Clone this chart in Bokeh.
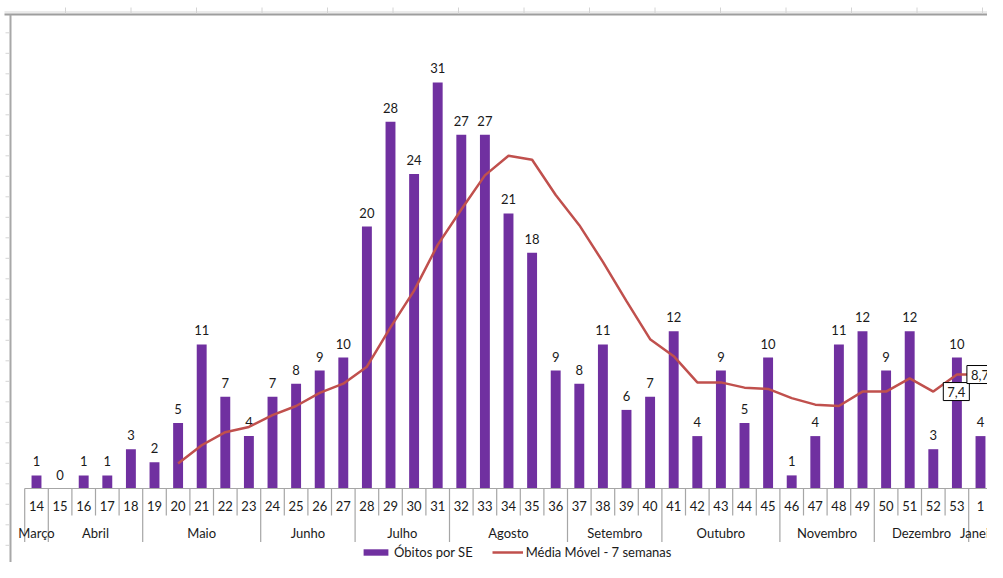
from bokeh.plotting import figure
from bokeh.models import Range1d, ColumnDataSource, Legend, LegendItem
from bokeh.core.properties import value
from bokeh.embed import file_html
from bokeh.resources import INLINE

# ---------------- data ----------------
weeks = ["14", "15", "16", "17", "18", "19", "20", "21", "22", "23", "24", "25",
         "26", "27", "28", "29", "30", "31", "32", "33", "34", "35", "36", "37",
         "38", "39", "40", "41", "42", "43", "44", "45", "46", "47", "48", "49",
         "50", "51", "52", "53", "1"]
obitos = [1, 0, 1, 1, 3, 2, 5, 11, 7, 4, 7, 8, 9, 10, 20, 28, 24, 31, 27, 27, 21,
          18, 9, 8, 11, 6, 7, 12, 4, 9, 5, 10, 1, 4, 11, 12, 9, 12, 3, 10, 4]
# 7-week moving average, from week 20 to week 1
media_movel = [1.9, 3.3, 4.3, 4.7, 5.6, 6.3, 7.3, 8.0, 9.3, 12.3, 15.1, 18.6,
               21.3, 23.9, 25.4, 25.1, 22.4, 20.1, 17.3, 14.3, 11.4, 10.1, 8.1,
               8.1, 7.7, 7.6, 6.9, 6.4, 6.3, 7.4, 7.4, 8.4, 7.4, 8.7, 8.7]
months = ["Março", "Abril", "Maio", "Junho", "Julho", "Agosto", "Setembro",
          "Outubro", "Novembro", "Dezembro", "Janeiro"]
weeks_per_month = [1, 4, 5, 4, 4, 5, 4, 5, 4, 4, 1]
n_labelled_ma = 3  # last points of the moving average carry a data label

FONT = value("Lato")
TXT = "#1a1a1a"
GRAY = "#A6A6A6"
W, H = 987, 562

# pixel geometry of the chart (figure pixels)
PX_X, X0 = 23.6, 36.0    # px per category, px of first category centre
PX_Y, Y0 = 13.1, 488.0   # px per unit, px of the zero line


def dx(px):
    return (px - X0) / PX_X


def dy(py):
    return (Y0 - py) / PX_Y


# ---------------- figure ----------------
p = figure(width=W, height=H, output_backend="svg", toolbar_location=None,
           x_range=Range1d(dx(0), dx(W)), y_range=Range1d(dy(H), dy(0)),
           min_border=0)
p.axis.visible = False
p.grid.visible = False
p.outline_line_color = None
p.background_fill_color = "white"
p.border_fill_color = "white"

# spreadsheet frame around the chart (top and left edges with small ticks)
p.quad(left=[dx(4)], right=[dx(W + 20)], top=[dy(10.5)], bottom=[dy(13)],
       fill_color="#EBEBEB", line_color=None)
p.segment(x0=[dx(4)], y0=[dy(14)], x1=[dx(W + 20)], y1=[dy(14)],
          line_color="#9E9E9E", line_width=2)
p.segment(x0=[dx(10)], y0=[dy(14)], x1=[dx(10)], y1=[dy(H + 20)],
          line_color="#A8A8A8", line_width=2)
tx = [65 + 65.5 * k for k in range(16)]
p.segment(x0=[dx(v) for v in tx], y0=[dy(7)] * len(tx),
          x1=[dx(v) for v in tx], y1=[dy(13)] * len(tx),
          line_color="#D4D4D4", line_width=1)
ty = [32.3 + 20.5 * k for k in range(27)]
p.segment(x0=[dx(5)] * len(ty), y0=[dy(v) for v in ty],
          x1=[dx(9)] * len(ty), y1=[dy(v) for v in ty],
          line_color="#D4D4D4", line_width=1)

# ---------------- bars ----------------
idx = list(range(len(weeks)))
src = ColumnDataSource(dict(x=idx, obitos=obitos, lab=[str(v) for v in obitos],
                            wk=weeks))
bars = p.vbar(x="x", top="obitos", width=0.42, source=src,
              fill_color="#7030A0", line_color=None)
p.text(x="x", y="obitos", text="lab", source=src, text_align="center",
       text_baseline="bottom", y_offset=-9, text_font=FONT,
       text_font_size="13px", text_color=TXT)

# ---------------- moving average ----------------
start = len(weeks) - len(media_movel)
ma_x = idx[start:]
line = p.line(ma_x, media_movel, line_color="#C0504D", line_width=2.5)

lab_src = ColumnDataSource(dict(
    x=ma_x[-n_labelled_ma:], y=media_movel[-n_labelled_ma:],
    t=[f"{v:.1f}".replace(".", ",") for v in media_movel[-n_labelled_ma:]]))
p.text(x="x", y="y", text="t", source=lab_src, x_offset=10,
       text_align="left", text_baseline="middle",
       text_font=FONT, text_font_size="13px", text_color=TXT,
       border_line_color="black", border_line_width=1,
       background_fill_color="white", padding=4)

# ---------------- category axis (two levels) ----------------
week_row = dy(515)
month_row = dy(541.5)
p.segment(x0=[-0.5], y0=[0], x1=[len(weeks) + 1], y1=[0],
          line_color=GRAY, line_width=1.2)
bounds = [0]
for c in weeks_per_month:
    bounds.append(bounds[-1] + c)
month_b = set(bounds)
sx = [b - 0.5 for b in range(len(weeks) + 1)]
p.segment(x0=sx, y0=[0] * len(sx), x1=sx,
          y1=[month_row if b in month_b else week_row for b in range(len(weeks) + 1)],
          line_color=GRAY, line_width=1.2)
p.text(x="x", y=dy(505.5), text="wk", source=src, text_align="center",
       text_baseline="middle", text_font=FONT, text_font_size="13px",
       text_color=TXT)
month_x = [(bounds[i] + bounds[i + 1] - 1) / 2 for i in range(len(months))]
p.text(x=month_x, y=[dy(532)] * len(months), text=months,
       text_align="center", text_baseline="middle", text_font=FONT,
       text_font_size="13px", text_color=TXT)

# ---------------- legend ----------------
legend = Legend(items=[LegendItem(label="Óbitos por SE", renderers=[bars]),
                       LegendItem(label="Média Móvel - 7 semanas", renderers=[line])],
                orientation="horizontal", location=(360, 2), glyph_width=31,
                glyph_height=8, label_height=16, label_standoff=3, spacing=19,
                padding=0, margin=0, border_line_alpha=0,
                background_fill_alpha=0, label_text_font="Lato",
                label_text_font_size="13px", label_text_color=TXT)
p.add_layout(legend)

open("out.html", "w").write(file_html(p, INLINE))
